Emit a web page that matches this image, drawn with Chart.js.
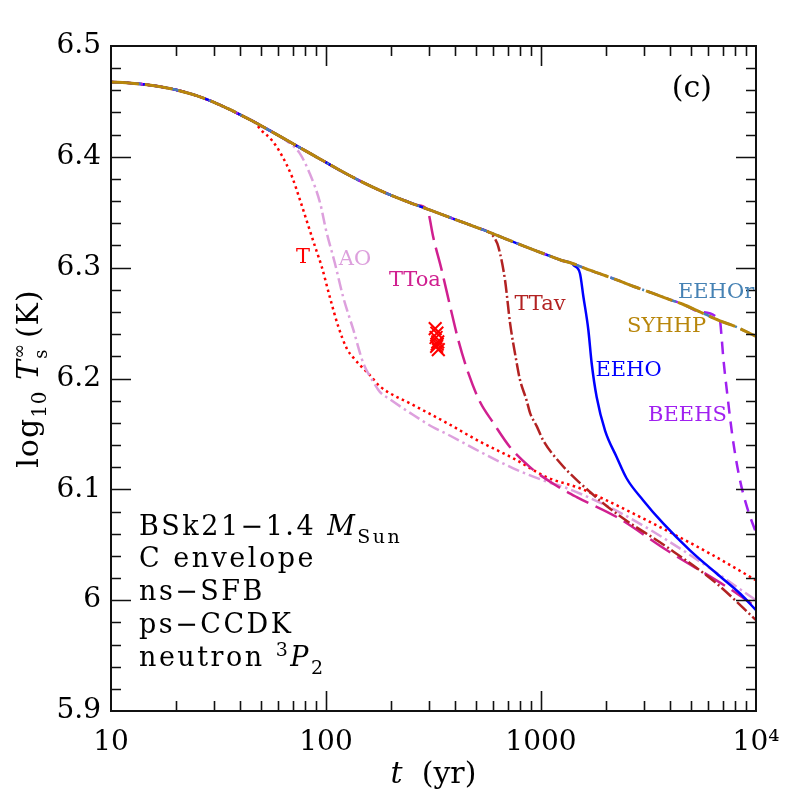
<!DOCTYPE html>
<html>
<head>
<meta charset="utf-8">
<script src="https://cdn.jsdelivr.net/npm/chart.js@4.4.1/dist/chart.umd.min.js"></script>
<style>
  html, body { margin: 0; padding: 0; background: #fff; }
  canvas { display: block; }
</style>
</head>
<body>
<canvas id="chart" width="797" height="797"></canvas>
<script>
// curva comun (todos los modelos coinciden hasta que se separan)
const tComun = [10, 12.5, 15, 17.5, 20, 25, 30, 35, 40, 45, 50, 60, 70, 80, 90, 100, 115, 130, 150, 178, 200, 230, 260, 294, 340, 400, 480, 569, 680, 800, 950, 1100, 1250, 1390, 1700, 2250, 2700, 3300, 4000, 4570, 5500, 6800, 8000, 10000];
const yComun = [6.4676, 6.4664, 6.4648, 6.4628, 6.4605, 6.4552, 6.4493, 6.4434, 6.4379, 6.4328, 6.428, 6.4194, 6.412, 6.4056, 6.400, 6.395, 6.3883, 6.3827, 6.3765, 6.3697, 6.3655, 6.3608, 6.3569, 6.3531, 6.3486, 6.3434, 6.3377, 6.3323, 6.3262, 6.3208, 6.3152, 6.3105, 6.3065, 6.304, 6.2975, 6.289, 6.283, 6.277, 6.271, 6.267, 6.260, 6.252, 6.247, 6.238];

// ramas de cada modelo de gap
const tT = [46, 50, 56, 62, 69.5, 75.7, 83, 90, 95.5, 104, 114, 125, 135, 144, 160, 178, 255, 364, 520, 743, 1062, 1517, 2020, 3570, 6110, 10000];
const yT = [6.432, 6.424, 6.415, 6.402, 6.382, 6.361, 6.337, 6.316, 6.301, 6.274, 6.247, 6.227, 6.218, 6.212, 6.203, 6.193, 6.176, 6.160, 6.143, 6.128, 6.111, 6.101, 6.090, 6.066, 6.042, 6.018];

const tAO = [68, 75, 84, 94, 100, 110, 120, 134, 149, 166, 178, 199, 246, 315, 364, 520, 743, 1062, 1320, 2330, 4570, 10000];
const yAO = [6.412, 6.404, 6.385, 6.358, 6.334, 6.304, 6.274, 6.244, 6.214, 6.197, 6.188, 6.181, 6.169, 6.156, 6.150, 6.134, 6.119, 6.107, 6.101, 6.079, 6.045, 6.000];

const tTToa = [300, 315, 345, 378, 412, 459, 520, 600, 718, 889, 1141, 1466, 2250, 3850, 7310, 10000];
const yTToa = [6.349, 6.328, 6.298, 6.265, 6.235, 6.205, 6.179, 6.160, 6.138, 6.120, 6.105, 6.093, 6.075, 6.045, 6.012, 5.994];

const tTTav = [590, 611, 633, 680, 718, 771, 798, 858, 889, 955, 1025, 1225, 1493, 2250, 3850, 6560, 10000];
const yTTav = [6.330, 6.326, 6.319, 6.289, 6.250, 6.214, 6.199, 6.180, 6.169, 6.157, 6.144, 6.124, 6.107, 6.078, 6.048, 6.015, 5.982];

const tEEHO = [1420, 1517, 1574, 1660, 1720, 1816, 1986, 2250, 2500, 2990, 3710, 4930, 6560, 8430, 10000];
const yEEHO = [6.302, 6.295, 6.274, 6.244, 6.214, 6.183, 6.153, 6.129, 6.110, 6.090, 6.069, 6.045, 6.024, 6.006, 5.991];

const tBEEHS = [6900, 7050, 7310, 7820, 8430, 9180, 10000];
const yBEEHS = [6.240, 6.218, 6.190, 6.144, 6.108, 6.081, 6.061];

// observaciones (cruces rojas)
const tObs = [322, 328, 325, 331, 327, 333, 329];
const yObs = [6.245, 6.241, 6.237, 6.233, 6.229, 6.226, 6.231];

const xTicks = [10, 100, 1000, 10000];
const xTickLabels = ['10', '100', '1000', '10\u2074'];

const serif = "'DejaVu Serif', 'Liberation Serif', serif";

function puntos(ts, ys) {
  return ts.map((t, i) => ({ x: t, y: ys[i] }));
}

// curva comun hasta el inicio de la rama + la rama
function rama(tB, yB) {
  const pts = [];
  for (let i = 0; i < tComun.length; i++) {
    if (tComun[i] < tB[0]) pts.push({ x: tComun[i], y: yComun[i] });
  }
  return pts.concat(puntos(tB, yB));
}

function linea(label, data, color, dash, width) {
  return {
    label, data,
    showLine: true,
    borderColor: color,
    backgroundColor: color,
    borderWidth: width || 2.5,
    borderDash: dash,
    pointRadius: 0,
    cubicInterpolationMode: 'monotone',
    fill: false
  };
}

const datasets = [
  {
    label: 'obs', data: puntos(tObs, yObs), showLine: false,
    pointStyle: 'crossRot', pointRadius: 9, borderColor: '#ff0000', borderWidth: 2
  },
  linea('SYHHP', puntos(tComun, yComun), '#b8860b', [28, 6], 3),
  linea('EEHOr', puntos(tComun, yComun), '#4682b4', [10, 4, 2, 4], 2.5),
  linea('BEEHS', rama(tBEEHS, yBEEHS), '#a020f0', [12, 8]),
  linea('EEHO', rama(tEEHO, yEEHO), '#0000ff', []),
  linea('TTav', rama(tTTav, yTTav), '#b22222', [13, 3, 2, 3]),
  linea('TToa', rama(tTToa, yTToa), '#d02090', [24, 8]),
  linea('AO', rama(tAO, yAO), '#dda0dd', [12, 4, 2.5, 4]),
  linea('T', rama(tT, yT), '#ff0000', [2.5, 3.5])
];

// etiquetas dentro del grafico (coordenadas de datos)
const etiquetas = [
  { txt: 'T', t: 78.2, y: 6.309, color: '#ff0000' },
  { txt: 'AO', t: 136.5, y: 6.307, color: '#dda0dd' },
  { txt: 'TToa', t: 259, y: 6.288, color: '#d02090' },
  { txt: 'TTav', t: 989, y: 6.267, color: '#b22222' },
  { txt: 'EEHOr', t: 6520, y: 6.2775, color: '#4682b4' },
  { txt: 'SYHHP', t: 3837, y: 6.2473, color: '#b8860b' },
  { txt: 'EEHO', t: 2553, y: 6.2071, color: '#0000ff' },
  { txt: 'BEEHS', t: 4800, y: 6.167, color: '#a020f0' },
  { txt: '(c)', t: 5035, y: 6.461, color: '#000000', size: 30 }
];

// dibuja texto con partes (subindices, cursiva...)
function textoRico(ctx, x, y, partes, align) {
  let total = 0;
  partes.forEach(p => {
    ctx.font = p.f;
    p.w = ctx.measureText(p.t).width;
    if (!p.keep) total += p.w;
  });
  let cx = align === 'center' ? x - total / 2 : x;
  ctx.textAlign = 'left';
  ctx.textBaseline = 'alphabetic';
  partes.forEach(p => {
    ctx.font = p.f;
    ctx.fillText(p.t, cx, y + (p.dy || 0));
    if (!p.keep) cx += p.w;
  });
}

const decoracion = {
  id: 'decoracion',
  afterDatasetsDraw(chart) {
    const { ctx, chartArea: a, scales: { x, y } } = chart;
    ctx.save();

    // marcas hacia dentro
    ctx.strokeStyle = '#111';
    ctx.lineWidth = 1.6;
    ctx.beginPath();
    for (const d of [10, 100, 1000]) {
      for (let m = 1; m <= 9; m++) {
        const v = d * m;
        if (v <= 10) continue;
        const px = Math.round(x.getPixelForValue(v)) + 0.5;
        const len = m === 1 ? 20 : 10;
        ctx.moveTo(px, a.bottom); ctx.lineTo(px, a.bottom - len);
        ctx.moveTo(px, a.top); ctx.lineTo(px, a.top + len);
      }
    }
    for (let i = 1; i < 30; i++) {
      const v = 5.9 + i * 0.02;
      const py = Math.round(y.getPixelForValue(v)) + 0.5;
      const len = i % 5 === 0 ? 20 : 10;
      ctx.moveTo(a.left, py); ctx.lineTo(a.left + len, py);
      ctx.moveTo(a.right, py); ctx.lineTo(a.right - len, py);
    }
    ctx.stroke();

    // marco
    ctx.lineWidth = 2;
    ctx.strokeRect(a.left, a.top, a.right - a.left, a.bottom - a.top);

    // etiquetas de curvas
    etiquetas.forEach(e => {
      ctx.fillStyle = e.color;
      ctx.font = (e.size || 21) + 'px ' + serif;
      ctx.textAlign = 'center';
      ctx.textBaseline = 'middle';
      ctx.fillText(e.txt, x.getPixelForValue(e.t), y.getPixelForValue(e.y));
    });

    // bloque de texto abajo a la izquierda
    ctx.fillStyle = '#000';
    ctx.letterSpacing = '2.5px';
    const f = '27px ' + serif, fi = 'italic 27px ' + serif, fs = '19px ' + serif;
    const x0 = 139;
    textoRico(ctx, x0, 535, [
      { t: 'BSk21\u22121.4 ', f },
      { t: 'M', f: fi },
      { t: 'Sun', f: fs, dy: 8 }
    ]);
    textoRico(ctx, x0, 567, [{ t: 'C envelope', f }]);
    textoRico(ctx, x0, 600, [{ t: 'ns\u2212SFB', f }]);
    textoRico(ctx, x0, 633, [{ t: 'ps\u2212CCDK', f }]);
    textoRico(ctx, x0, 666, [
      { t: 'neutron ', f },
      { t: '3', f: fs, dy: -10 },
      { t: 'P', f: fi },
      { t: '2', f: fs, dy: 8 }
    ]);
    ctx.letterSpacing = '0px';

    // titulo eje x
    const ft = '30px ' + serif, fti = 'italic 30px ' + serif;
    textoRico(ctx, (a.left + a.right) / 2, 783, [
      { t: 't', f: fti },
      { t: '  (yr)', f: ft }
    ], 'center');

    // titulo eje y
    ctx.translate(38, (a.top + a.bottom) / 2);
    ctx.rotate(-Math.PI / 2);
    ctx.letterSpacing = '1px';
    textoRico(ctx, 0, 0, [
      { t: 'log', f: ft },
      { t: '10', f: '20px ' + serif, dy: 8 },
      { t: ' ', f: ft },
      { t: 'T', f: fti },
      { t: '\u221e', f: '18px ' + serif, dy: -13, keep: true },
      { t: 's', f: '18px ' + serif, dy: 9 },
      { t: ' (K)', f: ft }
    ], 'center');

    ctx.restore();
  }
};

const ctx = document.getElementById('chart').getContext('2d');
new Chart(ctx, {
  type: 'scatter',
  data: { datasets },
  options: {
    responsive: false,
    animation: false,
    layout: { padding: { top: 46, right: 41, left: 0, bottom: 0 } },
    plugins: { legend: { display: false }, tooltip: { enabled: false } },
    scales: {
      x: {
        type: 'logarithmic',
        min: 10, max: 10000,
        afterBuildTicks: s => { s.ticks = xTicks.map(v => ({ value: v })); },
        afterFit: s => { s.height = 86; },
        ticks: {
          autoSkip: false, maxRotation: 0, padding: 15,
          color: '#000',
          font: { family: serif, size: 28 },
          callback: v => xTickLabels[xTicks.indexOf(v)] || ''
        },
        grid: { display: false, drawTicks: false },
        border: { display: false }
      },
      y: {
        min: 5.9, max: 6.5,
        afterFit: s => { s.width = 111; },
        ticks: {
          stepSize: 0.1, padding: 10,
          color: '#000',
          font: { family: serif, size: 28 },
          callback: v => {
            const r = Math.round(v * 10) / 10;
            return r === 6 ? '6' : r.toFixed(1);
          }
        },
        grid: { display: false, drawTicks: false },
        border: { display: false }
      }
    }
  },
  plugins: [decoracion]
});
</script>
</body>
</html>
